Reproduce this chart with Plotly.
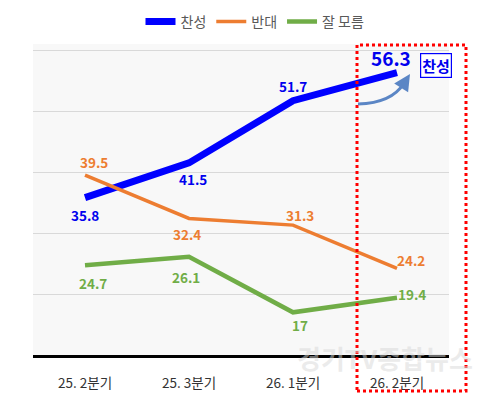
import plotly.graph_objects as go

quarters = ["25. 2분기", "25. 3분기", "26. 1분기", "26. 2분기"]
favor = [35.8, 41.5, 51.7, 56.3]
oppose = [39.5, 32.4, 31.3, 24.2]
unsure = [24.7, 26.1, 17, 19.4]

FONT = "Noto Sans CJK KR"

# series: name, values, colour, line width, label offsets (dx, dy px)
series = [
    ("찬성", favor, "#0000ff", 7,
     [(0, -17), (4, -16), (0, 15), (-6, 12)]),
    ("반대", oppose, "#ed7d31", 3.5,
     [(9, 13), (-2, -16), (7, 10), (14, 8)]),
    ("잘 모름", unsure, "#70ad47", 4.5,
     [(8, -18), (-3, -20), (7, -13), (15, 4)]),
]

fig = go.Figure()
annotations = []
for name, vals, color, width, offs in series:
    fig.add_trace(go.Scatter(
        x=quarters, y=vals, name=name, mode="lines",
        line=dict(color=color, width=width),
        hoverinfo="x+y",
    ))
    for i, (q, v) in enumerate(zip(quarters, vals)):
        big = name == "찬성" and i == len(vals) - 1
        annotations.append(dict(
            x=q, y=v, text=f"<b>{v}</b>", showarrow=False, xanchor="center",
            xshift=offs[i][0], yshift=offs[i][1] + (3 if big else 0),
            font=dict(family=FONT, size=19 if big else 13.5,
                      color="#0000ee" if name == "찬성" else color),
        ))

# page has an 8px body margin, so the plot is laid out 8px up/left
OX, OY = 25, 36
PW, PH = 416, 311


def px(x):
    return (x - 33) / PW


def py(y):
    return (355 - y) / PH


# "찬성" tag box
annotations.append(dict(
    xref="paper", yref="paper", x=px(436), y=py(65.5), text="<b>찬성</b>",
    xanchor="center", yanchor="middle",
    showarrow=False, bgcolor="white", bordercolor="#0000ff", borderwidth=1.2,
    borderpad=1, font=dict(family=FONT, size=15, color="#0000ee"),
))
# arrow head of the curved arrow
annotations.append(dict(
    xref="paper", yref="paper", x=px(410), y=py(74),
    ax=-7, ay=11, text="", showarrow=True, arrowhead=2, arrowsize=1.1,
    arrowwidth=3, arrowcolor="#5b86c5",
))
# watermark
annotations.append(dict(
    xref="paper", yref="paper", x=px(385), y=py(358), text="<b>경기TV종합뉴스</b>",
    xanchor="center", yanchor="middle",
    showarrow=False, font=dict(family=FONT, size=26, color="rgba(215,215,215,0.5)"),
))

shapes = [
    dict(type="rect", xref="paper", yref="paper",
         x0=px(357), x1=px(466), y0=py(391), y1=py(45),
         line=dict(color="red", width=3, dash="dot"), layer="above"),
    dict(type="path", xref="paper", yref="paper",
         path=f"M {px(358)} {py(104)} Q {px(392)} {py(103)} {px(404)} {py(83)}",
         line=dict(color="#5b86c5", width=3)),
]

fig.update_layout(
    width=500, height=417,
    margin=dict(l=OX, r=500 - OX - PW, t=OY, b=417 - OY - PH, autoexpand=False),
    paper_bgcolor="white", plot_bgcolor="#f8f8f8",
    font=dict(family=FONT, color="#333333"),
    showlegend=True,
    legend=dict(orientation="h", x=px(255), xanchor="center", y=1.02, yanchor="bottom",
                font=dict(size=14, color="#595959"), itemwidth=30),
    annotations=annotations, shapes=shapes,
    xaxis=dict(range=[-0.5, 3.5], showgrid=False, showline=True, linecolor="black",
               linewidth=3, ticks="", ticklabelstandoff=14,
               tickfont=dict(size=13.5, color="#333333")),
    yaxis=dict(range=[10, 61], dtick=10, tick0=10, showticklabels=False,
               gridcolor="#d9d9d9", gridwidth=1, zeroline=False),
)

fig.write_html("out.html")
